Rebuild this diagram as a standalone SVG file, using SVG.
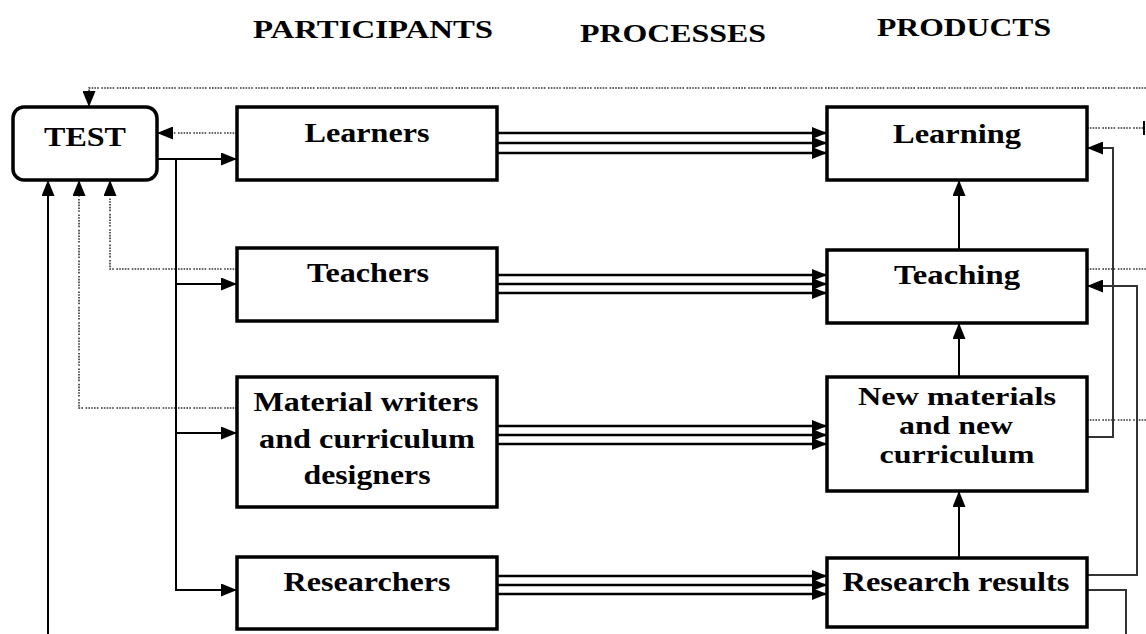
<svg xmlns="http://www.w3.org/2000/svg" width="1146" height="634" viewBox="0 0 1146 634">
<defs>
<style>
.box{fill:#fff;stroke:#000;stroke-width:3.5}
.t{font-family:"Liberation Serif","Times New Roman",serif;font-weight:bold;font-size:28px;fill:#000;text-anchor:middle}
.s{font-size:26px}
.h{font-family:"Liberation Serif","Times New Roman",serif;font-weight:bold;font-size:25px;fill:#000;text-anchor:start}
.ln{fill:none;stroke:#000;stroke-width:2}
.ln2{fill:none;stroke:#333;stroke-width:2}
.tri{fill:none;stroke:#000;stroke-width:2.6}
.dot{fill:none;stroke:#333;stroke-width:1.6;stroke-dasharray:1.6 1.2 1.6 1.2 1.6 1.2 1.6 1.2 1.6 2.6}
</style>
<marker id="a" viewBox="0 0 16 13" refX="16" refY="6.5" markerWidth="16" markerHeight="13" markerUnits="userSpaceOnUse" orient="auto">
<path d="M0,0 L16,6.5 L0,13 Z" fill="#000"/>
</marker>
<marker id="a3" viewBox="0 0 15 12" refX="15" refY="6" markerWidth="15" markerHeight="12" markerUnits="userSpaceOnUse" orient="auto">
<path d="M0,0 L15,6 L0,12 Z" fill="#000"/>
</marker>
</defs>
<rect width="1146" height="634" fill="#fff"/>

<g id="headers">
<text class="h" x="253" y="38" textLength="240" lengthAdjust="spacingAndGlyphs">PARTICIPANTS</text>
<text class="h" x="580" y="42" textLength="186" lengthAdjust="spacingAndGlyphs">PROCESSES</text>
<text class="h" x="877" y="36" textLength="174" lengthAdjust="spacingAndGlyphs">PRODUCTS</text>
</g>

<g id="connectors">
<g class="tri" marker-end="url(#a3)">
<line x1="497" y1="133" x2="827" y2="133"/>
<line x1="497" y1="143" x2="827" y2="143"/>
<line x1="497" y1="153" x2="827" y2="153"/>
<line x1="497" y1="275" x2="827" y2="275"/>
<line x1="497" y1="284" x2="827" y2="284"/>
<line x1="497" y1="293" x2="827" y2="293"/>
<line x1="497" y1="426" x2="827" y2="426"/>
<line x1="497" y1="435" x2="827" y2="435"/>
<line x1="497" y1="444" x2="827" y2="444"/>
<line x1="497" y1="576" x2="827" y2="576"/>
<line x1="497" y1="585" x2="827" y2="585"/>
<line x1="497" y1="594" x2="827" y2="594"/>
</g>
<line class="ln" x1="157" y1="159" x2="237" y2="159" marker-end="url(#a)"/>
<polyline class="ln" points="176,159 176,590 237,590" marker-end="url(#a)"/>
<line class="ln" x1="176" y1="284" x2="237" y2="284" marker-end="url(#a)"/>
<line class="ln" x1="176" y1="433" x2="237" y2="433" marker-end="url(#a)"/>
<line class="dot" x1="237" y1="133" x2="157" y2="133" marker-end="url(#a)"/>
<polyline class="dot" points="237,269 110,269 110,180" marker-end="url(#a)"/>
<polyline class="dot" points="237,408 79,408 79,180" marker-end="url(#a)"/>
<line class="ln" x1="48" y1="634" x2="48" y2="180" marker-end="url(#a)"/>
<polyline class="dot" points="1146,88 89,88 89,107" marker-end="url(#a)"/>
<line class="ln" x1="959" y1="250" x2="959" y2="180" marker-end="url(#a)"/>
<line class="ln" x1="959" y1="377" x2="959" y2="323" marker-end="url(#a)"/>
<line class="ln" x1="959" y1="558" x2="959" y2="491" marker-end="url(#a)"/>
<line class="dot" x1="1087" y1="128" x2="1143" y2="128"/>
<line class="ln" x1="1144" y1="121" x2="1144" y2="135"/>
<line class="dot" x1="1087" y1="269" x2="1146" y2="269"/>
<line class="dot" x1="1087" y1="420" x2="1146" y2="420"/>
<polyline class="ln2" points="1087,437 1113,437 1113,148 1087,148" marker-end="url(#a)"/>
<polyline class="ln2" points="1087,575 1137,575 1137,286 1087,286" marker-end="url(#a)"/>
<polyline class="ln2" points="1087,590 1126,590 1126,634"/>
</g>

<g id="test">
<rect x="13" y="107" width="144" height="73" rx="11" class="box"/>
<text class="t" x="85" y="146" textLength="82" lengthAdjust="spacingAndGlyphs">TEST</text>
</g>
<g id="learners">
<rect x="237" y="107" width="260" height="73" class="box"/>
<text class="t" x="367" y="142" textLength="125" lengthAdjust="spacingAndGlyphs">Learners</text>
</g>
<g id="teachers">
<rect x="237" y="248" width="260" height="73" class="box"/>
<text class="t" x="368" y="282" textLength="122" lengthAdjust="spacingAndGlyphs">Teachers</text>
</g>
<g id="material-writers">
<rect x="237" y="377" width="260" height="130" class="box"/>
<text class="t" x="366" y="411" textLength="225" lengthAdjust="spacingAndGlyphs">Material writers</text>
<text class="t" x="367" y="448" textLength="216" lengthAdjust="spacingAndGlyphs">and curriculum</text>
<text class="t" x="367" y="484" textLength="127" lengthAdjust="spacingAndGlyphs">designers</text>
</g>
<g id="researchers">
<rect x="237" y="557" width="260" height="72" class="box"/>
<text class="t" x="367" y="591" textLength="167" lengthAdjust="spacingAndGlyphs">Researchers</text>
</g>
<g id="learning">
<rect x="827" y="107" width="260" height="73" class="box"/>
<text class="t" x="957" y="143" textLength="128" lengthAdjust="spacingAndGlyphs">Learning</text>
</g>
<g id="teaching">
<rect x="827" y="250" width="260" height="73" class="box"/>
<text class="t" x="957" y="284" textLength="126" lengthAdjust="spacingAndGlyphs">Teaching</text>
</g>
<g id="new-materials">
<rect x="827" y="377" width="260" height="114" class="box"/>
<text class="t s" x="957" y="405" textLength="198" lengthAdjust="spacingAndGlyphs">New materials</text>
<text class="t s" x="956" y="434" textLength="114" lengthAdjust="spacingAndGlyphs">and new</text>
<text class="t s" x="957" y="463" textLength="155" lengthAdjust="spacingAndGlyphs">curriculum</text>
</g>
<g id="research-results">
<rect x="827" y="558" width="260" height="69" class="box"/>
<text class="t" x="956" y="591" textLength="227" lengthAdjust="spacingAndGlyphs">Research results</text>
</g>
</svg>
